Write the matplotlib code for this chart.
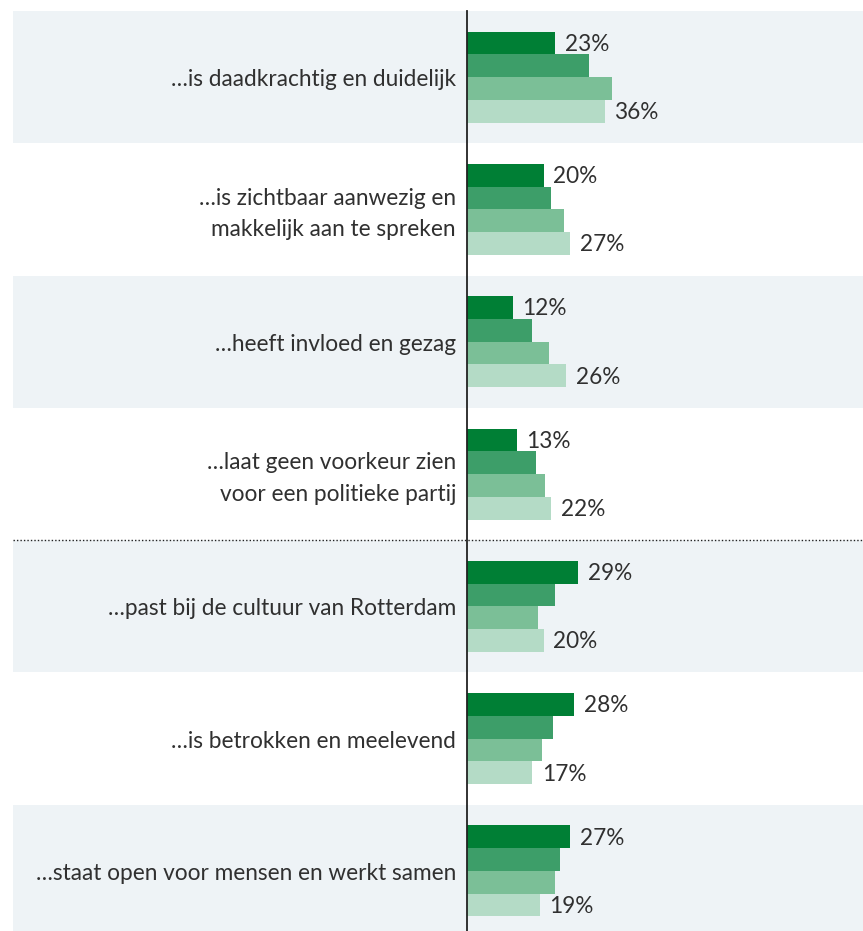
import matplotlib.pyplot as plt

categories = [
    "\u2026is daadkrachtig en duidelijk",
    "\u2026is zichtbaar aanwezig en\nmakkelijk aan te spreken",
    "\u2026heeft invloed en gezag",
    "\u2026laat geen voorkeur zien\nvoor een politieke partij",
    "\u2026past bij de cultuur van Rotterdam",
    "\u2026is betrokken en meelevend",
    "\u2026staat open voor mensen en werkt samen",
]
series_1 = [23, 20, 12, 13, 29, 28, 27]
series_2 = [32, 22, 17, 18, 23, 22.5, 24.3]
series_3 = [38, 25.4, 21.4, 20.4, 18.6, 19.6, 23]
series_4 = [36, 27, 26, 22, 20, 17, 19]

_colors = ["#007f35", "#3d9e69", "#7bbf97", "#b4dbc6"]
_band = "#eef3f6"
_text = "#303030"

plt.rcParams['font.family'] = ['Lato', 'DejaVu Sans']

fig = plt.figure(figsize=(8.63, 9.31), dpi=100)
ax = fig.add_axes([0, 0, 1, 1])
ax.set_xlim(-122.06, 103.5)
ax.set_ylim(6.454, -0.583)
ax.axis("off")

# alternating bands
for i in range(len(categories)):
    if i % 2 == 0:
        ax.axhspan(i - 0.5, i + 0.5, xmin=13 / 863, xmax=1, color=_band, lw=0, zorder=0)

_h = 0.172
_all = [series_1, series_2, series_3, series_4]
for k, vals in enumerate(_all):
    ys = [i + (k - 1.5) * _h for i in range(len(categories))]
    ax.barh(ys, vals, height=_h, color=_colors[k], zorder=2)
    if k in (0, 3):
        for y, v in zip(ys, vals):
            ax.text(v + 2.5, y + 0.01, "%d%%" % round(v), va="center", ha="left",
                    fontsize=16.3, color=_text, zorder=3)

for i, lab in enumerate(categories):
    _off = 0.035 if "\n" in lab else 0.02
    ax.text(-2.9, i + _off, lab, ha="right", va="center", fontsize=16.3,
            color=_text, linespacing=1.62, zorder=3)

ax.plot([0, 0], [-0.5, 6.454], color="#222222", lw=1.3, zorder=4)
ax.plot([-118.65, 103.5], [3.5, 3.5], color="#222222", lw=1, linestyle=(0, (1, 1.5)), zorder=4)

fig.savefig("out.png", dpi=100)
